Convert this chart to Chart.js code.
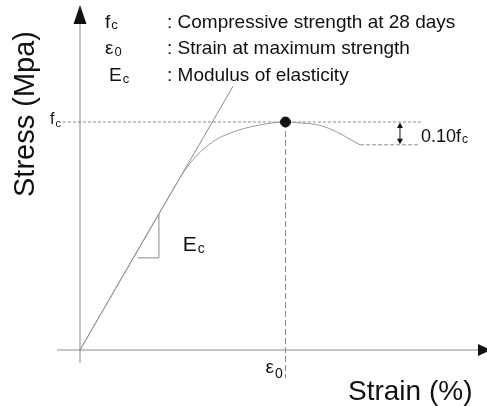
<!DOCTYPE html>
<html lang="en">
<head>
<meta charset="UTF-8">
<title>Stress-strain curve of concrete</title>
<style>
  body { margin: 0; padding: 0; background: #fff; }
  #wrap { width: 487px; height: 406px; position: relative; }
</style>
</head>
<body>
<div id="wrap"><canvas id="chart"></canvas></div>
<script src="https://cdn.jsdelivr.net/npm/chart.js@4.4.0/dist/chart.umd.min.js"></script>
<script>
  // strain in units of eps0, stress in units of fc
  var curveStrain = [0, 0.45, 0.49, 0.52, 0.55, 0.58, 0.62, 0.67, 0.73, 0.8, 0.88, 1, 1.071, 1.168, 1.249, 1.314, 1.363];
  var curveStress = [0, 0.7, 0.76, 0.8, 0.835, 0.864, 0.896, 0.927, 0.951, 0.972, 0.988, 1, 0.996, 0.985, 0.957, 0.924, 0.9];
  var tangentStrain = [0, 0.745];
  var tangentStress = [0, 1.157];
  var slopeStrain = [0.28, 0.384, 0.384];
  var slopeStress = [0.404, 0.404, 0.596];
  var peakStrain = [1];
  var peakStress = [1];
  var fcLineStrain = [-0.083, 1.669];
  var fcLineStress = [1, 1];
  var e0LineStrain = [1, 1];
  var e0LineStress = [1, -0.123];
  var residualStrain = [1.363, 1.645];
  var residualStress = [0.9, 0.9];
  var xAxisStrain = [-0.112, 1.99];
  var xAxisStress = [0, 0];
  var yAxisStrain = [0, 0];
  var yAxisStress = [-0.057, 1.43];

  var legendSymbols = [['f', 'c'], ['\u03b5', '0'], ['E', 'c']];
  var legendTexts = [': Compressive strength at 28 days', ': Strain at maximum strength', ': Modulus of elasticity'];

  function pts(xs, ys) {
    return xs.map(function(x, i) { return { x: x, y: ys[i] }; });
  }

  var FONT = '"Liberation Sans", Arial, sans-serif';

  function sub(ctx, main, s, x, y, size, subSize, drop) {
    ctx.font = size + 'px ' + FONT;
    ctx.fillText(main, x, y);
    var w = ctx.measureText(main).width;
    ctx.font = subSize + 'px ' + FONT;
    ctx.fillText(s, x + w + 1, y + drop);
  }

  function tri(ctx, a, b, c) {
    ctx.beginPath();
    ctx.moveTo(a[0], a[1]);
    ctx.lineTo(b[0], b[1]);
    ctx.lineTo(c[0], c[1]);
    ctx.closePath();
    ctx.fill();
  }

  var annotations = {
    id: 'annotations',
    afterDatasetsDraw: function(chart) {
      var ctx = chart.ctx;
      var sx = chart.scales.x, sy = chart.scales.y;
      var x0 = sx.getPixelForValue(0), y0 = sy.getPixelForValue(0);
      var xe = sx.getPixelForValue(1), yf = sy.getPixelForValue(1);
      ctx.save();
      ctx.fillStyle = '#111';

      // axis arrow heads
      var yTop = sy.getPixelForValue(1.43);
      tri(ctx, [x0, yTop - 19], [x0 - 6.5, yTop], [x0 + 6.5, yTop]);
      tri(ctx, [491, y0], [478, y0 - 6], [478, y0 + 6]);

      // 0.10fc double arrow
      var xa = sx.getPixelForValue(1.557);
      var y9 = sy.getPixelForValue(0.9);
      ctx.strokeStyle = '#111';
      ctx.lineWidth = 1;
      ctx.beginPath();
      ctx.moveTo(xa, yf + 4);
      ctx.lineTo(xa, y9 - 4);
      ctx.stroke();
      tri(ctx, [xa, yf + 0.5], [xa - 3, yf + 6], [xa + 3, yf + 6]);
      tri(ctx, [xa, y9 - 0.5], [xa - 3, y9 - 6], [xa + 3, y9 - 6]);

      ctx.textBaseline = 'alphabetic';
      ctx.textAlign = 'left';

      // legend
      var baseY = [27.5, 54, 81];
      var symX = [105, 105, 109];
      for (var i = 0; i < legendTexts.length; i++) {
        sub(ctx, legendSymbols[i][0], legendSymbols[i][1], symX[i], baseY[i], 19, 13, 1.5);
        ctx.font = '19px ' + FONT;
        ctx.fillText(legendTexts[i], 167, baseY[i]);
      }

      // labels on the chart
      sub(ctx, 'f', 'c', 50, yf + 2, 16, 11, 2.5);
      sub(ctx, '\u03b5', '0', xe - 20, y0 + 23, 19, 14, 5);
      sub(ctx, 'E', 'c', sx.getPixelForValue(0.5), sy.getPixelForValue(0.404) - 7, 21, 14, 2);
      sub(ctx, '0.10f', 'c', 421, y9 - 3, 18, 12, 1.5);

      // axis titles
      ctx.font = '28px ' + FONT;
      ctx.fillText('Strain (%)', 348, 400);
      ctx.save();
      ctx.translate(33.5, 114);
      ctx.rotate(-Math.PI / 2);
      ctx.textAlign = 'center';
      ctx.font = '29px ' + FONT;
      ctx.fillText('Stress (Mpa)', 0, 0);
      ctx.restore();

      ctx.restore();
    }
  };

  function lineSet(data, color, dash) {
    return {
      data: data,
      showLine: true,
      borderColor: color,
      borderWidth: 1,
      borderDash: dash || [],
      pointRadius: 0,
      fill: false
    };
  }

  var curve = lineSet(pts(curveStrain, curveStress), '#9a9a9a');
  curve.cubicInterpolationMode = 'monotone';

  var peak = {
    data: pts(peakStrain, peakStress),
    pointRadius: 5,
    pointBackgroundColor: '#111',
    pointBorderColor: '#111',
    showLine: false
  };

  var ctx = document.getElementById('chart').getContext('2d');
  var chart = new Chart(ctx, {
    type: 'scatter',
    data: {
      datasets: [
        peak,
        curve,
        lineSet(pts(tangentStrain, tangentStress), '#8a8a8a'),
        lineSet(pts(slopeStrain, slopeStress), '#8a8a8a'),
        lineSet(pts(fcLineStrain, fcLineStress), '#8a8a8a', [3, 2]),
        lineSet(pts(e0LineStrain, e0LineStress), '#8a8a8a', [6, 3]),
        lineSet(pts(residualStrain, residualStress), '#8a8a8a', [4, 2]),
        lineSet(pts(xAxisStrain, xAxisStress), '#8a8a8a'),
        lineSet(pts(yAxisStrain, yAxisStress), '#8a8a8a')
      ]
    },
    options: {
      responsive: true,
      maintainAspectRatio: false,
      animation: false,
      layout: { padding: 0, autoPadding: false },
      plugins: {
        legend: { display: false },
        tooltip: { enabled: false }
      },
      scales: {
        x: { type: 'linear', display: false, min: -0.3893, max: 1.9805 },
        y: { type: 'linear', display: false, min: -0.2456, max: 1.5351 }
      }
    },
    plugins: [annotations]
  });
</script>
</body>
</html>
